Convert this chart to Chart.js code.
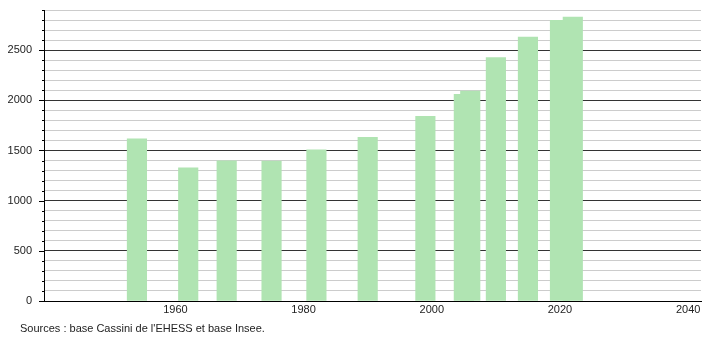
<!DOCTYPE html>
<html>
<head>
<meta charset="utf-8">
<title>Évolution démographique</title>
<script src="https://cdn.jsdelivr.net/npm/chart.js@4/dist/chart.umd.min.js"></script>
<style>
  html, body { margin: 0; padding: 0; background: #fff; }
  #wrap { width: 710px; height: 340px; position: relative; }
</style>
</head>
<body>
<div id="wrap"><canvas id="popChart" width="710" height="340"></canvas></div>
<script>
// données
const years = [1954, 1962, 1968, 1975, 1982, 1990, 1999, 2005, 2006, 2010, 2015, 2020, 2022];
const population = [1617, 1327, 1397, 1395, 1507, 1630, 1840, 2060, 2093, 2427, 2630, 2797, 2830];
const xTickYears = [1960, 1980, 2000, 2020, 2040];
const sourceText = "Sources : base Cassini de l'EHESS et base Insee.";

const FONT = '"Liberation Sans", Arial, sans-serif';

// petits traits sur l'axe vertical + texte des sources
const axisExtras = {
  id: "axisExtras",
  afterDraw(chart) {
    const ctx = chart.ctx;
    const y = chart.scales.y;
    const left = chart.chartArea.left;
    ctx.save();
    ctx.strokeStyle = "#000";
    ctx.lineWidth = 1;
    y.ticks.forEach(t => {
      const py = Math.round(y.getPixelForValue(t.value)) + 0.5;
      const len = t.value % 500 === 0 ? 5 : 2;
      ctx.beginPath();
      ctx.moveTo(left - len, py);
      ctx.lineTo(left, py);
      ctx.stroke();
    });
    ctx.fillStyle = "#222";
    ctx.font = "11px " + FONT;
    ctx.textBaseline = "middle";
    ctx.fillText(sourceText, 20, 329);
    ctx.restore();
  }
};

new Chart(document.getElementById("popChart"), {
  type: "bar",
  data: {
    datasets: [{
      label: "Population",
      data: years.map((yr, i) => ({ x: yr, y: population[i] })),
      backgroundColor: "#b0e4b2",
      borderWidth: 0,
      barThickness: 19.5
    }]
  },
  options: {
    responsive: false,
    animation: false,
    layout: { padding: { top: 10, right: 9, bottom: 21, left: 0 } },
    plugins: {
      legend: { display: false },
      tooltip: { enabled: false }
    },
    scales: {
      x: {
        type: "linear",
        min: 1939.5,
        max: 2042,
        offset: false,
        grid: { display: false, offset: false, drawTicks: false },
        border: { display: true, color: "#000", width: 1 },
        afterBuildTicks: s => { s.ticks = xTickYears.map(v => ({ value: v })); },
        afterFit: s => { s.height = 18; s.paddingLeft = 0; s.paddingRight = 0; },
        ticks: {
          autoSkip: false,
          maxRotation: 0,
          padding: 2,
          color: "#222",
          font: { family: FONT, size: 11 },
          callback: v => String(v)
        }
      },
      y: {
        min: 0,
        max: 2900,
        afterFit: s => { s.width = 44; s.paddingTop = 0; s.paddingBottom = 0; },
        grid: {
          drawTicks: false,
          color: c => (c.tick && c.tick.value % 500 === 0 ? "#333" : "#cccccc")
        },
        border: { display: true, color: "#000", width: 1 },
        ticks: {
          stepSize: 100,
          autoSkip: false,
          padding: 12,
          color: "#222",
          font: { family: FONT, size: 11 },
          callback: v => (v % 500 === 0 ? String(v) : "")
        }
      }
    }
  },
  plugins: [axisExtras]
});
</script>
</body>
</html>
